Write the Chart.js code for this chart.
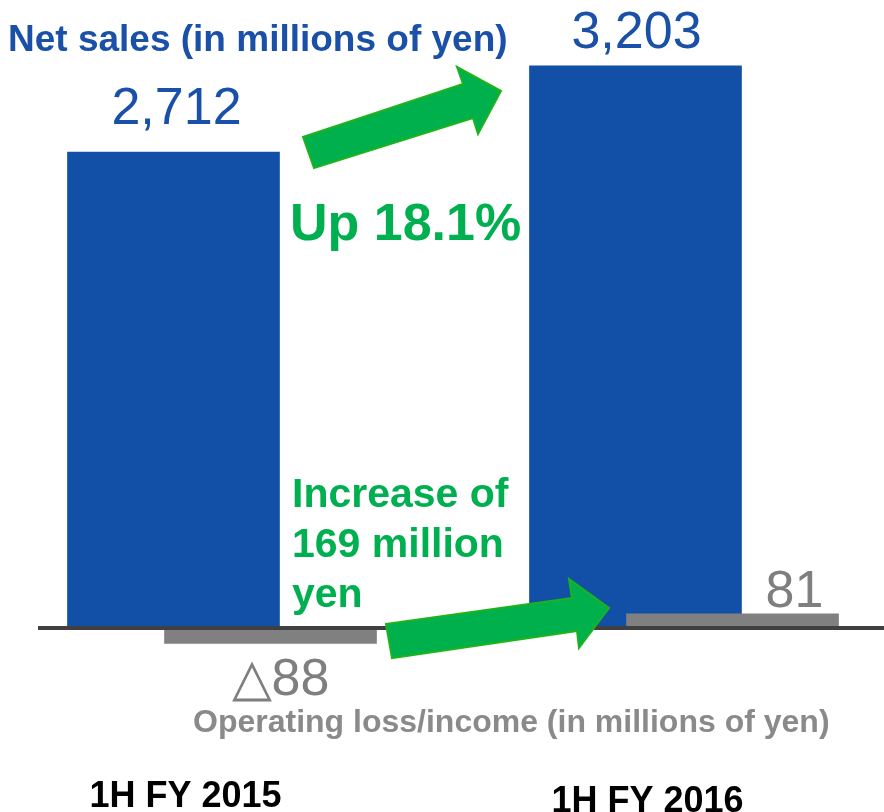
<!DOCTYPE html>
<html>
<head>
<meta charset="utf-8">
<script src="https://cdn.jsdelivr.net/npm/chart.js@4"></script>
<style>
  html, body { margin: 0; padding: 0; background: #fff; }
  #wrap { width: 884px; height: 812px; }
</style>
</head>
<body>
<div id="wrap"><canvas id="salesChart" width="884" height="812"></canvas></div>
<script>
// Data
const categories = ['1H FY 2015', '1H FY 2016'];
const netSales = [2712, 3203];
const operatingIncome = [-88, 81];
const netSalesLabels = ['2,712', '3,203'];
const incomeLabels = ['\u25B388', '81'];

// Colours
const BLUE = '#1150A6';
const BLUE_TEXT = '#1A50A8';
const GRAY = '#808080';
const GRAY_TEXT = '#7F7F7F';
const GREEN = '#00B050';
const FONT = '"Liberation Sans", Arial, sans-serif';

// Gray bars sit a bit to the right of each blue bar
const incomeShift = 0.21;

// Block arrow outline (pixels)
function drawArrow(ctx, pts) {
  ctx.beginPath();
  ctx.moveTo(pts[0][0], pts[0][1]);
  for (let i = 1; i < pts.length; i++) ctx.lineTo(pts[i][0], pts[i][1]);
  ctx.closePath();
  ctx.fillStyle = '#00B04C';
  ctx.fill();
  ctx.lineWidth = 2;
  ctx.strokeStyle = '#1DB31D';
  ctx.stroke();
}

const annotations = {
  id: 'annotations',
  afterDatasetsDraw(chart) {
    const ctx = chart.ctx;
    const yScale = chart.scales.y;
    const y0 = yScale.getPixelForValue(0);

    ctx.save();
    // zero line
    ctx.strokeStyle = '#404040';
    ctx.lineWidth = 4;
    ctx.beginPath();
    ctx.moveTo(38, y0);
    ctx.lineTo(chart.width, y0);
    ctx.stroke();

    // net sales values above blue bars
    const salesMeta = chart.getDatasetMeta(0);
    const salesOffsets = [[3, -28], [1, -18]];
    ctx.fillStyle = BLUE_TEXT;
    ctx.font = '52px ' + FONT;
    ctx.textAlign = 'center';
    ctx.textBaseline = 'alphabetic';
    salesMeta.data.forEach((bar, i) => {
      ctx.fillText(netSalesLabels[i], bar.x + salesOffsets[i][0], bar.y + salesOffsets[i][1]);
    });

    // operating loss/income values
    const incMeta = chart.getDatasetMeta(1);
    const incOffsets = [[10, 52], [62, -7]];
    ctx.fillStyle = GRAY_TEXT;
    incMeta.data.forEach((bar, i) => {
      ctx.fillText(incomeLabels[i], bar.x + incOffsets[i][0], bar.y + incOffsets[i][1]);
    });

    // category labels
    const catY = [807, 812];
    ctx.fillStyle = '#000';
    ctx.font = 'bold 36px ' + FONT;
    salesMeta.data.forEach((bar, i) => {
      ctx.fillText(categories[i], bar.x + 12, catY[i]);
    });

    // titles and notes
    ctx.textAlign = 'left';
    ctx.fillStyle = BLUE_TEXT;
    ctx.font = 'bold 37px ' + FONT;
    ctx.fillText('Net sales (in millions of yen)', 8, 51);

    ctx.fillStyle = '#8A8A8A';
    ctx.font = 'bold 32px ' + FONT;
    ctx.fillText('Operating loss/income (in millions of yen)', 193, 732);

    ctx.fillStyle = GREEN;
    ctx.font = 'bold 52px ' + FONT;
    ctx.fillText('Up 18.1%', 290, 240);
    ctx.font = 'bold 41px ' + FONT;
    ['Increase of', '169 million', 'yen'].forEach((t, i) => {
      ctx.fillText(t, 292, 507 + i * 50);
    });

    // arrows
    drawArrow(ctx, [[303, 137], [463, 84], [457, 67], [501, 91], [478, 134], [473, 118], [314, 168]]);
    drawArrow(ctx, [[386, 624], [572, 598], [569, 579], [609, 608], [579, 648], [577, 631], [392, 658]]);
    ctx.restore();
  }
};

new Chart(document.getElementById('salesChart'), {
  type: 'bar',
  data: {
    datasets: [
      {
        label: 'Net sales',
        data: netSales.map((v, i) => ({ x: i, y: v })),
        backgroundColor: BLUE,
        order: 2
      },
      {
        label: 'Operating loss/income',
        data: operatingIncome.map((v, i) => ({ x: i + incomeShift, y: v })),
        backgroundColor: GRAY,
        order: 1
      }
    ]
  },
  options: {
    responsive: false,
    animation: false,
    grouped: false,
    barThickness: 212,
    layout: { padding: 0 },
    scales: {
      x: { type: 'linear', display: false, offset: false, min: -0.3755, max: 1.5379 },
      y: { display: false, min: -1048, max: 3578 }
    },
    plugins: {
      legend: { display: false },
      tooltip: { enabled: false }
    }
  },
  plugins: [annotations]
});
</script>
</body>
</html>
